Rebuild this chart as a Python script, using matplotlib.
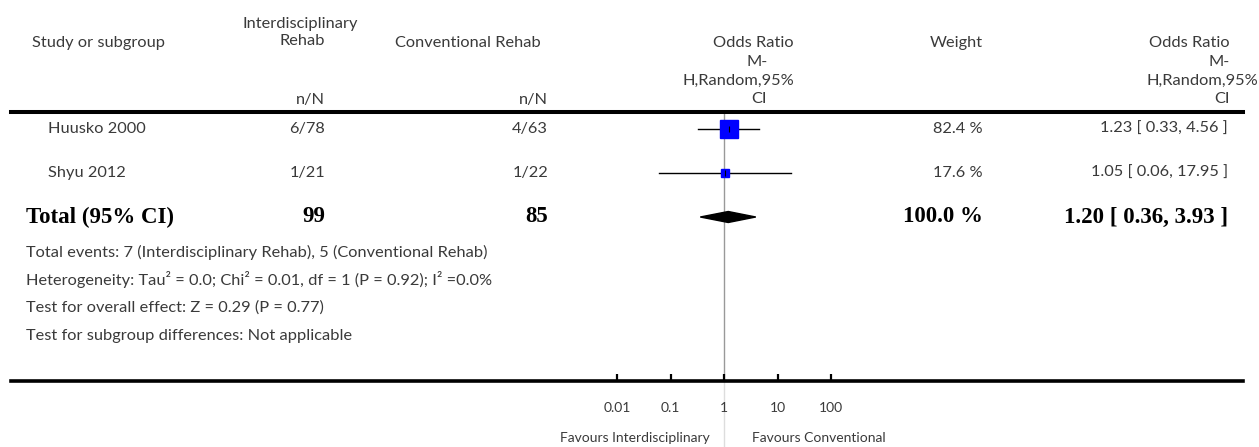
import numpy as np
import matplotlib
matplotlib.use("Agg")
import matplotlib.pyplot as plt
from matplotlib.transforms import blended_transform_factory
from matplotlib.patches import Polygon

# размеры картинки в пикселях
W, H = 1259, 447

# ---------------- данные ----------------
studies = ["Huusko 2000", "Shyu 2012"]
treat_nN = ["6/78", "1/21"]
ctrl_nN = ["4/63", "1/22"]
weights = [82.4, 17.6]
or_est = [1.23, 1.05]
or_lo = [0.33, 0.06]
or_hi = [4.56, 17.95]

total_treat = 99
total_ctrl = 85
total_weight = 100.0
total_or = 1.20
total_lo = 0.36
total_hi = 3.93

footer = [
    "Total events: 7 (Interdisciplinary Rehab), 5 (Conventional Rehab)",
    "Heterogeneity: Tau² = 0.0; Chi² = 0.01, df = 1 (P = 0.92); I² =0.0%",
    "Test for overall effect: Z = 0.29 (P = 0.77)",
    "Test for subgroup differences: Not applicable",
]

ticks = [0.01, 0.1, 1, 10, 100]
tick_labels = ["0.01", "0.1", "1", "10", "100"]
fav_left = "Favours Interdisciplinary"
fav_right = "Favours Conventional"

# ---------------- оформление ----------------
FONT = "Lato"
SERIF = "Liberation Serif"
GREY = "#3a3a3a"
fs = 11.8
fs_small = 10
fs_bold = 16.5

fig = plt.figure(figsize=(W / 100, H / 100), dpi=100)

# оси для лесного графика: от линии заголовка (y=112) до оси (y=381)
x0, x1 = 11, 1243
y_top, y_bot = 112, 381
ax = fig.add_axes([x0 / W, 1 - y_bot / H, (x1 - x0) / W, (y_bot - y_top) / H])
ax.set_xscale("log")
dec = 53.5  # пикселей на декаду
ax.set_xlim(10 ** ((x0 - 724) / dec), 10 ** ((x1 - 724) / dec))
row_h = 44
ax.set_ylim((y_bot - 129) / row_h, -(129 - y_top) / row_h)

for s in ["left", "right"]:
    ax.spines[s].set_visible(False)
ax.spines["top"].set_linewidth(2.9)
ax.spines["bottom"].set_linewidth(2.6)
ax.set_yticks([])
ax.set_xticks(ticks)
ax.set_xticklabels(tick_labels)
ax.minorticks_off()
ax.tick_params(axis="x", direction="in", length=5, width=1.6, pad=15,
               labelsize=fs_small, labelcolor=GREY)
for lab in ax.get_xticklabels():
    lab.set_fontfamily(FONT)

# линия "нет эффекта"
ax.axvline(1, color="#999999", lw=1.0, zorder=1)
bt = blended_transform_factory(ax.transData, ax.transAxes)
ax.plot([1, 1], [0, -(H - y_bot) / (y_bot - y_top)], transform=bt,
        color="#dddddd", lw=1.0, clip_on=False, zorder=1)

rows = np.arange(len(studies))
for i in rows:
    ax.plot([or_lo[i], or_hi[i]], [i, i], color="black", lw=1.0, zorder=2)
    ax.plot(or_est[i], i, marker="s", color="#0000ff", mec="#0000ff",
            markersize=1.5 * np.sqrt(weights[i]), zorder=3)
    ax.plot(or_est[i], i, marker="|", color="black", markersize=5, mew=0.8, zorder=4)

ty = len(studies)
dh = 0.125
ax.add_patch(Polygon([[total_lo, ty], [total_or, ty - dh], [total_hi, ty], [total_or, ty + dh]],
                     closed=True, color="black", zorder=3))

# ---------------- тексты ----------------
def ftext(px, py, s, **kw):
    kw.setdefault("fontfamily", FONT)
    kw.setdefault("fontsize", fs)
    kw.setdefault("color", GREY)
    fig.text(px / W, 1 - py / H, s, **kw)

rt = blended_transform_factory(fig.transFigure, ax.transData)

def rtext(px, row, s, **kw):
    kw.setdefault("fontfamily", FONT)
    kw.setdefault("fontsize", fs)
    kw.setdefault("color", GREY)
    ax.text(px / W, row, s, transform=rt, va="center", **kw)

# заголовок
ftext(32, 43, "Study or subgroup", va="center")
ftext(300, 24, "Interdisciplinary", ha="center", va="center")
ftext(302, 41, "Rehab", ha="center", va="center")
ftext(468, 43, "Conventional Rehab", ha="center", va="center")
ftext(325, 100, "n/N", ha="right", va="center")
ftext(548, 100, "n/N", ha="right", va="center")
ftext(794, 43, "Odds Ratio", ha="right", va="center")
ftext(768, 62, "M-", ha="right", va="center")
ftext(794, 81, "H,Random,95%", ha="right", va="center")
ftext(767, 99, "CI", ha="right", va="center")
ftext(983, 43, "Weight", ha="right", va="center")
ftext(1230, 43, "Odds Ratio", ha="right", va="center")
ftext(1230, 62, "M-", ha="right", va="center")
ftext(1258, 81, "H,Random,95%", ha="right", va="center")
ftext(1230, 99, "CI", ha="right", va="center")

# строки исследований
for i in rows:
    rtext(48, i, studies[i])
    rtext(325, i, treat_nN[i], ha="right")
    rtext(548, i, ctrl_nN[i], ha="right")
    rtext(983, i, f"{weights[i]:.1f} %", ha="right")
    rtext(1228, i, f"{or_est[i]:.2f} [ {or_lo[i]:.2f}, {or_hi[i]:.2f} ]", ha="right")

bold = dict(fontfamily=SERIF, fontsize=fs_bold, fontweight="bold", color="black")
rtext(26, ty, "Total (95% CI)", **bold)
rtext(325, ty, str(total_treat), ha="right", **bold)
rtext(548, ty, str(total_ctrl), ha="right", **bold)
rtext(983, ty, f"{total_weight:.1f} %", ha="right", **bold)
rtext(1228, ty, f"{total_or:.2f} [ {total_lo:.2f}, {total_hi:.2f} ]", ha="right", **bold)

for k, line in enumerate(footer):
    ftext(26, 252 + 28 * k, line, va="center")

ftext(710, 438, fav_left, ha="right", va="center", fontsize=fs_small)
ftext(752, 438, fav_right, ha="left", va="center", fontsize=fs_small)

fig.savefig("out.png", dpi=100)
